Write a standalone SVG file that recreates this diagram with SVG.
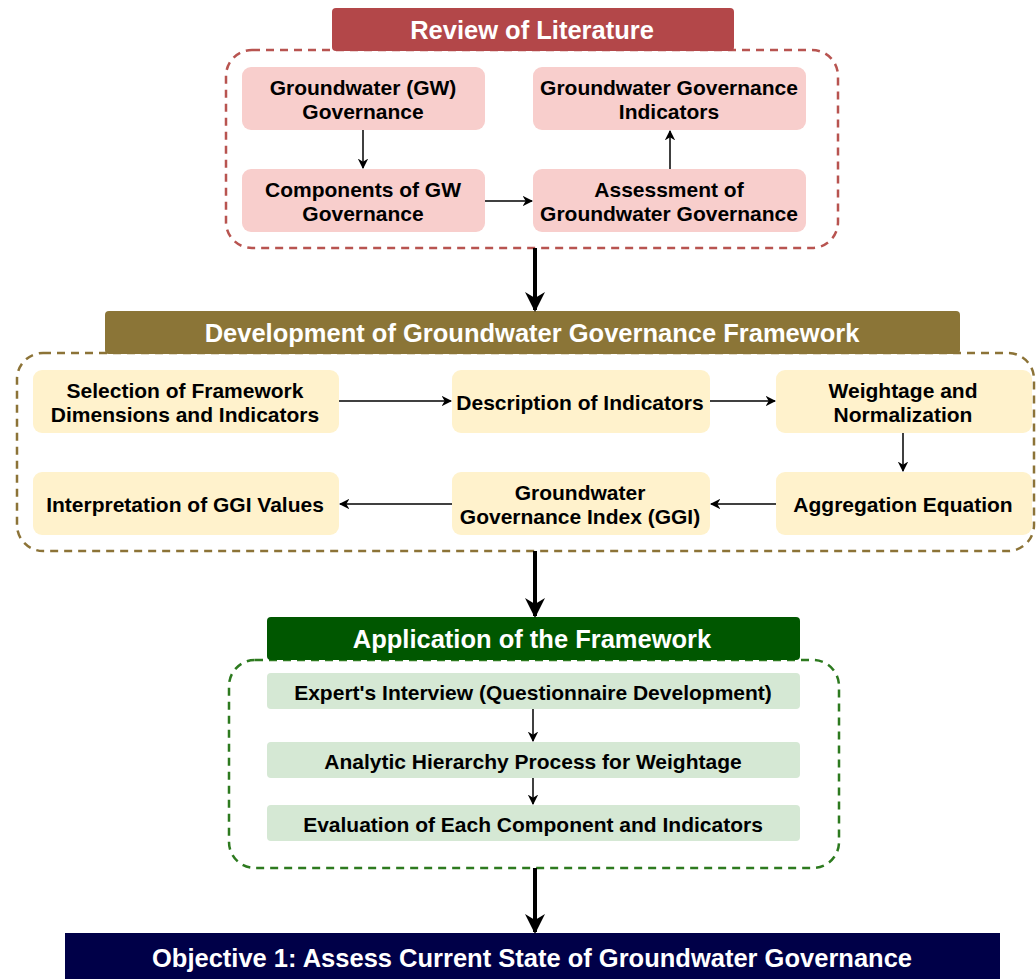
<svg xmlns="http://www.w3.org/2000/svg" width="1036" height="979" viewBox="0 0 1036 979">
<defs>
<marker id="ahb" viewBox="0 0 10 10" refX="9" refY="5" markerWidth="7" markerHeight="7" orient="auto"><path d="M0,0 L10,5 L0,10 L3,5 z" fill="#000"/></marker>
<marker id="ahs" viewBox="0 0 10 10" refX="9" refY="5" markerWidth="5" markerHeight="5" orient="auto"><path d="M0,0 L10,5 L0,10 L3,5 z" fill="#000"/></marker>
</defs>
<style>
text{font-family:"Liberation Sans",Arial,sans-serif;font-weight:bold;text-anchor:middle;dominant-baseline:central}
.h{fill:#fff;font-size:25.5px}
.n{fill:#000;font-size:21px}
.pink{fill:#f8cecc}
.yel{fill:#fff2cc}
.grn{fill:#d5e8d4}
.c{stroke:#000;stroke-width:1.5;fill:none;marker-end:url(#ahb)}
.big{stroke:#000;stroke-width:4;fill:none;marker-end:url(#ahs)}
.dash{fill:none;stroke-width:2.5;stroke-dasharray:8 6}
</style>
<rect width="1036" height="979" fill="#fff"/>

<g id="lit-container"><rect class="dash" x="226" y="50" width="612" height="198" rx="26" stroke="#b85450"/></g>
<g id="lit-header"><rect x="332" y="8" width="402" height="43" rx="4" fill="#b34749"/><text class="h" x="532" y="30">Review of Literature</text></g>
<g id="gw-gov"><rect class="pink" x="242" y="67" width="243" height="63" rx="9"/><text class="n" x="363" y="87">Groundwater (GW)</text><text class="n" x="363" y="111">Governance</text></g>
<g id="ggi-ind"><rect class="pink" x="533" y="67" width="273" height="63" rx="9"/><text class="n" x="669" y="87">Groundwater Governance</text><text class="n" x="669" y="111">Indicators</text></g>
<g id="comp"><rect class="pink" x="242" y="169" width="243" height="63" rx="9"/><text class="n" x="363" y="189">Components of GW</text><text class="n" x="363" y="213">Governance</text></g>
<g id="assess"><rect class="pink" x="533" y="169" width="273" height="63" rx="9"/><text class="n" x="669" y="189">Assessment of</text><text class="n" x="669" y="213">Groundwater Governance</text></g>

<g id="dev-container"><rect class="dash" x="17" y="353" width="1017" height="198" rx="26" stroke="#8c7337"/></g>
<g id="dev-header"><rect x="105" y="311" width="855" height="43" rx="4" fill="#8b7537"/><text class="h" x="532" y="333">Development of Groundwater Governance Framework</text></g>
<g id="sel"><rect class="yel" x="33" y="370" width="306" height="63" rx="9"/><text class="n" x="185" y="390">Selection of Framework</text><text class="n" x="185" y="414">Dimensions and Indicators</text></g>
<g id="desc"><rect class="yel" x="452" y="370" width="258" height="63" rx="9"/><text class="n" x="580" y="402">Description of Indicators</text></g>
<g id="weight"><rect class="yel" x="776" y="370" width="256" height="63" rx="9"/><text class="n" x="903" y="390">Weightage and</text><text class="n" x="903" y="414">Normalization</text></g>
<g id="interp"><rect class="yel" x="33" y="472" width="306" height="63" rx="9"/><text class="n" x="185" y="504">Interpretation of GGI Values</text></g>
<g id="ggi"><rect class="yel" x="452" y="472" width="258" height="63" rx="9"/><text class="n" x="580" y="492">Groundwater</text><text class="n" x="580" y="516">Governance Index (GGI)</text></g>
<g id="agg"><rect class="yel" x="776" y="472" width="256" height="63" rx="9"/><text class="n" x="903" y="504">Aggregation Equation</text></g>

<g id="app-container"><rect class="dash" x="229" y="660" width="610" height="208" rx="26" stroke="#2d7a1f"/></g>
<g id="app-header"><rect x="267" y="617" width="533" height="43" rx="4" fill="#005700"/><text class="h" x="532" y="639">Application of the Framework</text></g>
<g id="expert"><rect class="grn" x="267" y="673" width="533" height="36" rx="4"/><text class="n" x="533" y="692">Expert's Interview (Questionnaire Development)</text></g>
<g id="ahp"><rect class="grn" x="267" y="742" width="533" height="36" rx="4"/><text class="n" x="533" y="761">Analytic Hierarchy Process for Weightage</text></g>
<g id="eval"><rect class="grn" x="267" y="805" width="533" height="36" rx="4"/><text class="n" x="533" y="824">Evaluation of Each Component and Indicators</text></g>

<g id="objective"><rect x="65" y="933" width="935" height="50" fill="#000048"/><text class="h" x="532" y="958">Objective 1: Assess Current State of Groundwater Governance</text></g>

<g id="connectors">
<line class="c" x1="363" y1="130" x2="363" y2="168"/>
<line class="c" x1="485" y1="201" x2="532" y2="201"/>
<line class="c" x1="670" y1="169" x2="670" y2="131"/>
<line class="c" x1="339" y1="401" x2="451" y2="401"/>
<line class="c" x1="710" y1="401" x2="775" y2="401"/>
<line class="c" x1="903" y1="433" x2="903" y2="471"/>
<line class="c" x1="776" y1="504" x2="711" y2="504"/>
<line class="c" x1="452" y1="504" x2="340" y2="504"/>
<line class="c" x1="533" y1="709" x2="533" y2="741"/>
<line class="c" x1="533" y1="778" x2="533" y2="804"/>
<line class="big" x1="535" y1="248" x2="535" y2="310"/>
<line class="big" x1="535" y1="551" x2="535" y2="616"/>
<line class="big" x1="535" y1="868" x2="535" y2="932"/>
</g>
</svg>
